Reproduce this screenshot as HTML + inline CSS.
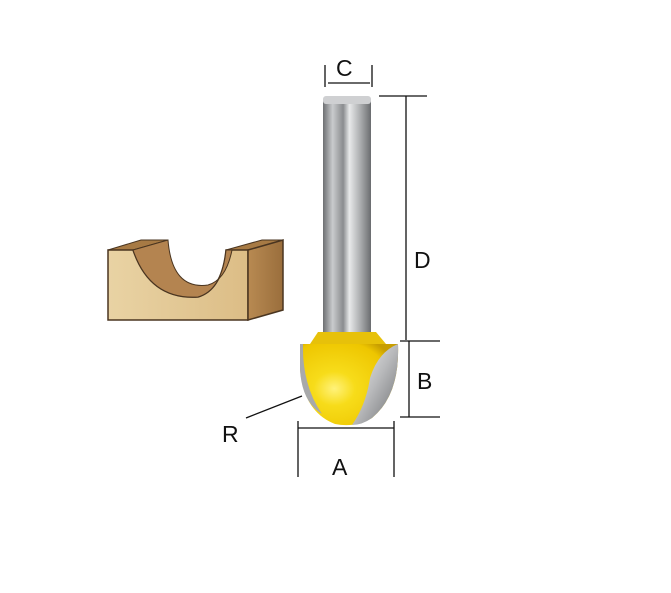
<!DOCTYPE html>
<html><head><style>html,body{margin:0;padding:0;background:#fff}svg{display:block}text{font-family:"Liberation Sans",sans-serif;font-size:23px;fill:#111}</style></head>
<body>
<svg width="671" height="593" viewBox="0 0 671 593">
<defs>
<linearGradient id="sh" x1="0" x2="1" y1="0" y2="0">
<stop offset="0" stop-color="#6d6f72"/><stop offset="0.2" stop-color="#c9cbcd"/><stop offset="0.42" stop-color="#8a8c8f"/><stop offset="0.55" stop-color="#e8e9ea"/><stop offset="0.8" stop-color="#a5a7a9"/><stop offset="1" stop-color="#6a6c6f"/>
</linearGradient>
<radialGradient id="yl" cx="0.35" cy="0.55" r="0.7">
<stop offset="0" stop-color="#fff27a"/><stop offset="0.3" stop-color="#f7dc1a"/><stop offset="0.85" stop-color="#eec600"/><stop offset="1" stop-color="#c89e00"/>
</radialGradient>
<linearGradient id="sl" x1="0" x2="1" y1="0" y2="1">
<stop offset="0" stop-color="#f4f4f4"/><stop offset="0.5" stop-color="#b8b9bb"/><stop offset="1" stop-color="#6c6e71"/>
</linearGradient>
<linearGradient id="wf" x1="0" x2="1"><stop offset="0" stop-color="#e9d3a4"/><stop offset="1" stop-color="#dcbd86"/></linearGradient>
<linearGradient id="wr" x1="0" x2="1"><stop offset="0" stop-color="#b88a52"/><stop offset="1" stop-color="#9a6e3c"/></linearGradient>
</defs>
<!-- wood block -->
<polygon points="108,250 133,250 168,240 141,240" fill="#a77a44" stroke="#4a3520" stroke-width="1"/>
<polygon points="226,250 248,250 283,240 262,240" fill="#a77a44" stroke="#4a3520" stroke-width="1"/>
<path d="M108,250 L133,250 Q150,300 198,297 Q222,290 226,250 L248,250 L248,320 L108,320 Z" fill="url(#wf)" stroke="#4a3520" stroke-width="1.5"/>
<path d="M133,250 L168,240 Q172,290 208,285 Q226,280 232,250 L226,250 Q222,290 198,297 Q150,300 133,250 Z" fill="#b48450" stroke="#4a3520" stroke-width="1"/>
<polygon points="248,250 283,240 283,310 248,320" fill="url(#wr)" stroke="#4a3520" stroke-width="1.5"/>
<!-- shank -->
<rect x="323" y="99" width="48" height="245" fill="url(#sh)"/>
<rect x="323" y="96" width="48" height="8" rx="3" fill="#cfd0d2"/>
<!-- head -->
<path d="M318,332 L376,332 L386,344 L310,344 Z" fill="#e7c10a"/>
<path d="M300,344 L398,344 Q400,395 372,418 Q355,428 335,424 Q304,412 300,370 Z" fill="url(#yl)"/>
<path d="M398,344 Q400,395 372,418 Q362,425 352,425 Q366,405 370,378 Q378,352 398,344 Z" fill="url(#sl)"/>
<path d="M300,344 L303,344 Q302,385 322,414 Q302,402 300,370 Z" fill="#a8a9ab"/>
<!-- dims -->
<g stroke="#111" stroke-width="1.3" fill="none">
<line x1="325" y1="65" x2="325" y2="87"/><line x1="372" y1="65" x2="372" y2="87"/><line x1="328" y1="83" x2="370" y2="83"/>
<line x1="379" y1="96" x2="427" y2="96"/><line x1="406" y1="96" x2="406" y2="340"/>
<line x1="400" y1="341" x2="440" y2="341"/><line x1="409" y1="341" x2="409" y2="417"/>
<line x1="400" y1="417" x2="440" y2="417"/>
<line x1="298" y1="421" x2="298" y2="477"/><line x1="394" y1="421" x2="394" y2="477"/><line x1="298" y1="428" x2="394" y2="428"/>
<line x1="246" y1="418" x2="302" y2="396"/>
</g>
<text x="336" y="76">C</text>
<text x="414" y="268">D</text>
<text x="417" y="389">B</text>
<text x="332" y="475">A</text>
<text x="222" y="442">R</text>
</svg>
</body></html>
